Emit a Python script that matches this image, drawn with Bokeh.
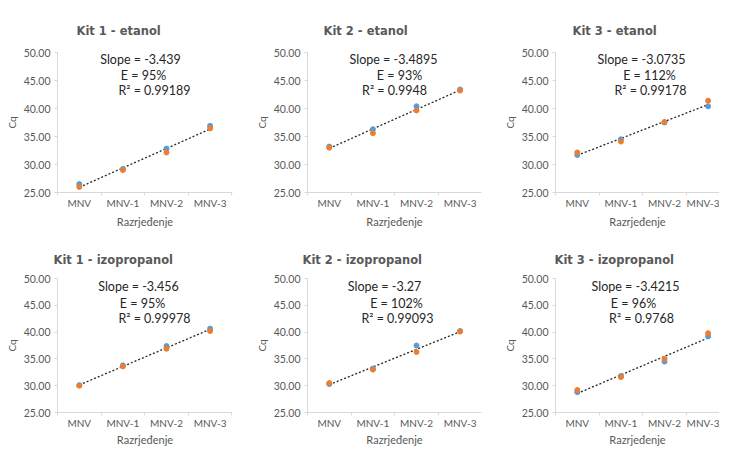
import numpy as np
from bokeh.plotting import figure
from bokeh.models import Range1d, FixedTicker, NumeralTickFormatter, Label
from bokeh.layouts import row, column
from bokeh.embed import file_html
from bokeh.resources import INLINE

# ---------------- data ----------------
categories = ["MNV", "MNV-1", "MNV-2", "MNV-3"]
y_ticks = [25, 30, 35, 40, 45, 50]

titles = ["Kit 1 - etanol", "Kit 2 - etanol", "Kit 3 - etanol",
          "Kit 1 - izopropanol", "Kit 2 - izopropanol", "Kit 3 - izopropanol"]

kit1_etanol_blue = [26.5, 29.2, 32.85, 36.9]
kit1_etanol_orange = [26.0, 29.0, 32.15, 36.45]
kit2_etanol_blue = [33.2, 36.3, 40.4, 43.4]
kit2_etanol_orange = [33.0, 35.6, 39.65, 43.2]
kit3_etanol_blue = [31.7, 34.5, 37.5, 40.4]
kit3_etanol_orange = [32.15, 34.1, 37.6, 41.4]
kit1_izo_blue = [30.1, 33.8, 37.4, 40.65]
kit1_izo_orange = [30.0, 33.6, 36.9, 40.2]
kit2_izo_blue = [30.3, 33.2, 37.5, 40.2]
kit2_izo_orange = [30.5, 33.0, 36.3, 40.1]
kit3_izo_blue = [28.8, 31.8, 34.5, 39.2]
kit3_izo_orange = [29.2, 31.6, 35.0, 39.8]

slope_texts = ["-3.439", "-3.4895", "-3.0735", "-3.456", "-3.27", "-3.4215"]
efficiency_texts = ["95%", "93%", "112%", "95%", "102%", "96%"]
r2_texts = ["0.99189", "0.9948", "0.99178", "0.99978", "0.99093", "0.9768"]

blue_series = [kit1_etanol_blue, kit2_etanol_blue, kit3_etanol_blue,
               kit1_izo_blue, kit2_izo_blue, kit3_izo_blue]
orange_series = [kit1_etanol_orange, kit2_etanol_orange, kit3_etanol_orange,
                 kit1_izo_orange, kit2_izo_orange, kit3_izo_orange]

# ---------------- layout / style ----------------
BLUE = "#5B9BD5"
ORANGE = "#ED7D31"
GREY_AX = "#D9D9D9"
GREY_TXT = "#595959"
FONT = "Lato"
PX_PER_CAT = 43.6
Y_MIN, Y_MAX = 25, 50

col_widths = [240, 243, 236]
row_heights = [230, 218]
border_left = [57, 67, 72]
border_right = [8, 2, 0]
border_top = [52, 48]
border_bottom = [35, 33]
title_offset = [[19, 16, 17], [-4, -5, -1]]
title_standoff = [30, 24]
xlabel_standoff = [3, 1]
# annotation centres relative to frame (x px from left, y px below the top line)
ann_x = [[83, 86, 97], [86, 92, 87], [86, 94, 95],
         [81, 85, 97], [77, 89, 90], [80, 78, 86]]
ann_y = [[7, 23, 39], [7, 23, 39], [7, 23, 39],
         [8, 26, 41], [8, 26, 41], [8, 26, 41]]

x_idx = np.arange(len(categories))


def make_panel(i):
    r, c = divmod(i, 3)
    w, h = col_widths[c], row_heights[r]
    fw = w - border_left[c] - border_right[c]
    fh = h - border_top[r] - border_bottom[r]
    p = figure(width=w, height=h, output_backend="svg", toolbar_location=None,
               x_range=Range1d(-0.5, -0.5 + fw / PX_PER_CAT),
               y_range=Range1d(Y_MIN, Y_MAX),
               min_border_left=border_left[c], min_border_right=border_right[c],
               min_border_top=border_top[r], min_border_bottom=border_bottom[r],
               title=titles[i])
    p.outline_line_color = None
    p.grid.visible = False
    p.background_fill_color = "white"
    p.border_fill_color = "white"

    p.title.align = "left"
    p.title.offset = title_offset[r][c]
    p.title.standoff = title_standoff[r]
    p.title.text_font = "DejaVu Sans"
    p.title.text_font_style = "bold"
    p.title.text_font_size = "11.5px"
    p.title.text_color = GREY_TXT

    xa = p.xaxis[0]
    xa.ticker = FixedTicker(ticks=list(x_idx), minor_ticks=[-0.5, 0.5, 1.5, 2.5, 3.5])
    xa.major_label_overrides = {int(k): categories[k] for k in x_idx}
    xa.major_tick_out = 0
    xa.major_tick_in = 0
    xa.minor_tick_out = 3
    xa.minor_tick_in = 0
    xa.minor_tick_line_color = GREY_AX
    xa.axis_line_color = GREY_AX
    xa.major_label_standoff = 1
    xa.major_label_text_font = FONT
    xa.major_label_text_font_size = "10px"
    xa.major_label_text_color = GREY_TXT
    xa.axis_label = "Razrjeđenje"
    xa.axis_label_standoff = xlabel_standoff[r]
    xa.axis_label_text_font = FONT
    xa.axis_label_text_font_size = "11px"
    xa.axis_label_text_font_style = "normal"
    xa.axis_label_text_color = GREY_TXT

    ya = p.yaxis[0]
    ya.ticker = FixedTicker(ticks=y_ticks, minor_ticks=[])
    ya.formatter = NumeralTickFormatter(format="0.00")
    ya.major_tick_out = 3
    ya.major_tick_in = 0
    ya.major_tick_line_color = GREY_AX
    ya.axis_line_color = GREY_AX
    ya.major_label_standoff = 4
    ya.major_label_text_font = FONT
    ya.major_label_text_font_size = "10.5px"
    ya.major_label_text_color = GREY_TXT
    ya.axis_label = "Cq"
    ya.axis_label_standoff = 3
    ya.axis_label_text_font = FONT
    ya.axis_label_text_font_size = "10px"
    ya.axis_label_text_font_style = "normal"
    ya.axis_label_text_color = GREY_TXT

    blue = np.array(blue_series[i], dtype=float)
    orange = np.array(orange_series[i], dtype=float)
    xs_all = np.concatenate([x_idx, x_idx])
    ys_all = np.concatenate([blue, orange])
    k, b = np.polyfit(xs_all, ys_all, 1)
    p.line(x_idx, k * x_idx + b, line_color="#262626", line_width=1.3, line_dash="2 2")

    p.scatter(x_idx, blue, marker="circle", size=5, fill_color=BLUE, line_color=BLUE)
    p.scatter(x_idx, orange, marker="circle", size=5, fill_color=ORANGE, line_color=ORANGE)

    lines = ["Slope = " + slope_texts[i], "E = " + efficiency_texts[i], "R² = " + r2_texts[i]]
    units_per_px = (Y_MAX - Y_MIN) / fh
    for j, t in enumerate(lines):
        p.add_layout(Label(x=ann_x[i][j], y=Y_MAX - ann_y[i][j] * units_per_px,
                           x_units="screen", y_units="data",
                           text=t, text_align="center", text_baseline="middle",
                           text_font=FONT, text_font_size="12.5px", text_color="#262626"))
    return p


panels = [make_panel(i) for i in range(6)]
layout = column(row(*panels[:3]), row(*panels[3:]))

with open("out.html", "w") as f:
    f.write(file_html(layout, INLINE))
